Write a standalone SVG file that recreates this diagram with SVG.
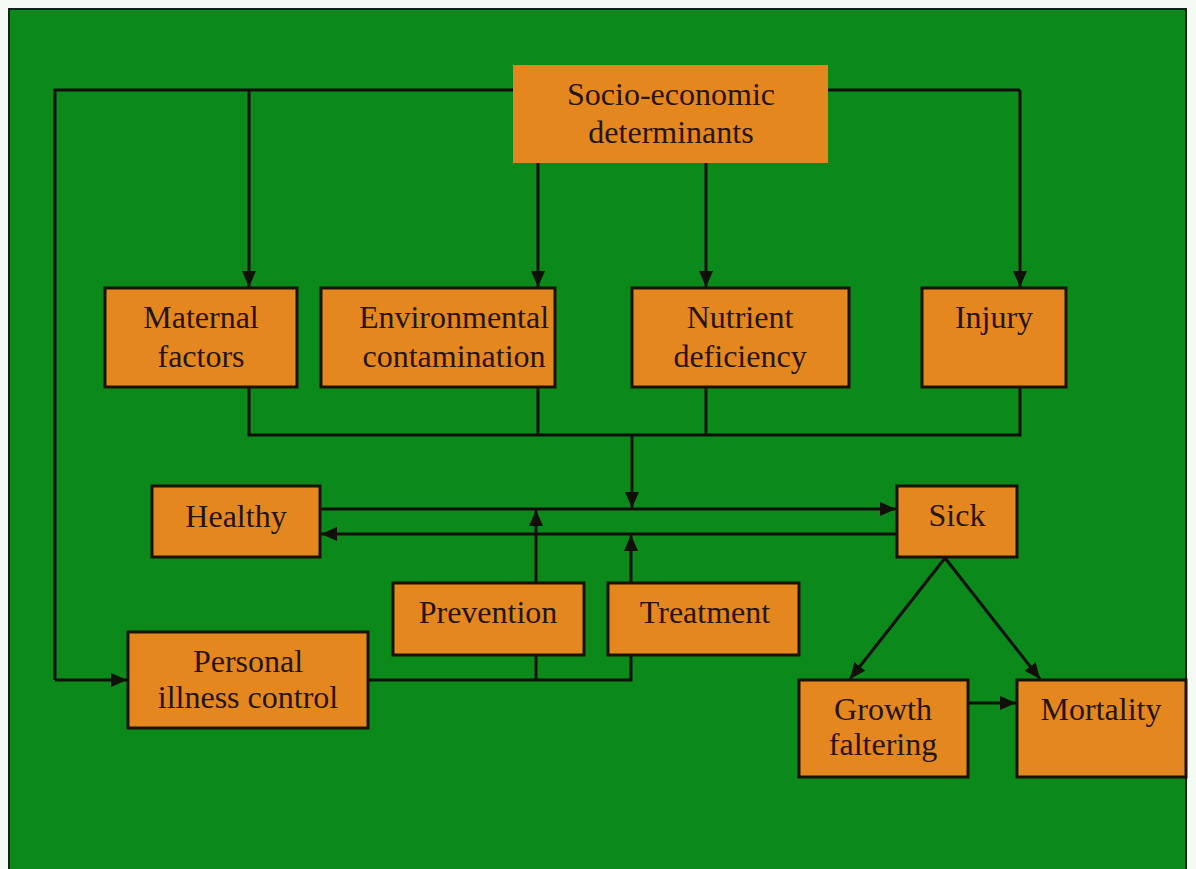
<svg xmlns="http://www.w3.org/2000/svg" width="1196" height="869" viewBox="0 0 1196 869">
  <defs>
    <marker id="arrow" viewBox="0 0 16 14" refX="16" refY="7" markerWidth="16" markerHeight="14" markerUnits="userSpaceOnUse" orient="auto">
      <path d="M0,0 L16,7 L0,14 Z" fill="#101008"/>
    </marker>
    <style>
      .box { fill: #e5871f; stroke: #1a1208; stroke-width: 3; }
      .plain { fill: #e5871f; }
      .label { font-family: "Liberation Serif", "Times New Roman", serif; font-size: 32px; fill: #261406; text-anchor: middle; }
      .wire { fill: none; stroke: #101008; stroke-width: 3; }
      .arr { marker-end: url(#arrow); }
    </style>
  </defs>

  <!-- page and panel -->
  <rect x="0" y="0" width="1196" height="869" fill="#f4faf4"/>
  <rect x="9" y="9" width="1177" height="880" fill="#0b8a1b" stroke="#14201a" stroke-width="2"/>

  <!-- connectors -->
  <g id="connectors">
    <!-- top distribution bus -->
    <path class="wire" d="M513,90 H55 V680"/>
    <path class="wire arr" d="M55,680 H127"/>
    <path class="wire arr" d="M249,90 V287"/>
    <path class="wire" d="M828,90 H1020"/>
    <path class="wire arr" d="M1020,90 V287"/>
    <path class="wire arr" d="M538,163 V287"/>
    <path class="wire arr" d="M706,163 V287"/>
    <!-- collecting bus under the determinants -->
    <path class="wire" d="M249,387 V435 H1020 V387"/>
    <path class="wire" d="M538,387 V435"/>
    <path class="wire" d="M706,387 V435"/>
    <path class="wire arr" d="M632,435 V508"/>
    <!-- healthy / sick transitions -->
    <path class="wire arr" d="M320,509 H896"/>
    <path class="wire arr" d="M897,534 H321"/>
    <!-- interventions -->
    <path class="wire arr" d="M536,583 V510"/>
    <path class="wire arr" d="M631,583 V535"/>
    <path class="wire" d="M368,680 H631 V655"/>
    <path class="wire" d="M536,680 V655"/>
    <!-- outcomes -->
    <path class="wire arr" d="M945,558 L850,679"/>
    <path class="wire arr" d="M945,558 L1040,679"/>
    <path class="wire arr" d="M968,703 H1016"/>
  </g>

  <g id="socio-economic">
    <rect class="plain" x="513" y="65" width="315" height="98"/>
    <text class="label" x="671" y="105">Socio-economic</text>
    <text class="label" x="671" y="143">determinants</text>
  </g>

  <g id="maternal">
    <rect class="box" x="105" y="288" width="192" height="99"/>
    <text class="label" x="201" y="328">Maternal</text>
    <text class="label" x="201" y="367">factors</text>
  </g>

  <g id="environmental">
    <rect class="box" x="321" y="288" width="234" height="99"/>
    <text class="label" x="454" y="328">Environmental</text>
    <text class="label" x="454" y="367">contamination</text>
  </g>

  <g id="nutrient">
    <rect class="box" x="632" y="288" width="217" height="99"/>
    <text class="label" x="740" y="328">Nutrient</text>
    <text class="label" x="740" y="367">deficiency</text>
  </g>

  <g id="injury">
    <rect class="box" x="922" y="288" width="144" height="99"/>
    <text class="label" x="994" y="328">Injury</text>
  </g>

  <g id="healthy">
    <rect class="box" x="152" y="486" width="168" height="71"/>
    <text class="label" x="236" y="527">Healthy</text>
  </g>

  <g id="sick">
    <rect class="box" x="897" y="486" width="120" height="71"/>
    <text class="label" x="957" y="526">Sick</text>
  </g>

  <g id="prevention">
    <rect class="box" x="393" y="583" width="191" height="72"/>
    <text class="label" x="488" y="623">Prevention</text>
  </g>

  <g id="treatment">
    <rect class="box" x="608" y="583" width="191" height="72"/>
    <text class="label" x="705" y="623">Treatment</text>
  </g>

  <g id="personal-illness-control">
    <rect class="box" x="128" y="632" width="240" height="96"/>
    <text class="label" x="248" y="672">Personal</text>
    <text class="label" x="248" y="708">illness control</text>
  </g>

  <g id="growth-faltering">
    <rect class="box" x="799" y="680" width="169" height="97"/>
    <text class="label" x="883" y="720">Growth</text>
    <text class="label" x="883" y="755">faltering</text>
  </g>

  <g id="mortality">
    <rect class="box" x="1017" y="680" width="169" height="97"/>
    <text class="label" x="1101" y="720">Mortality</text>
  </g>
</svg>
